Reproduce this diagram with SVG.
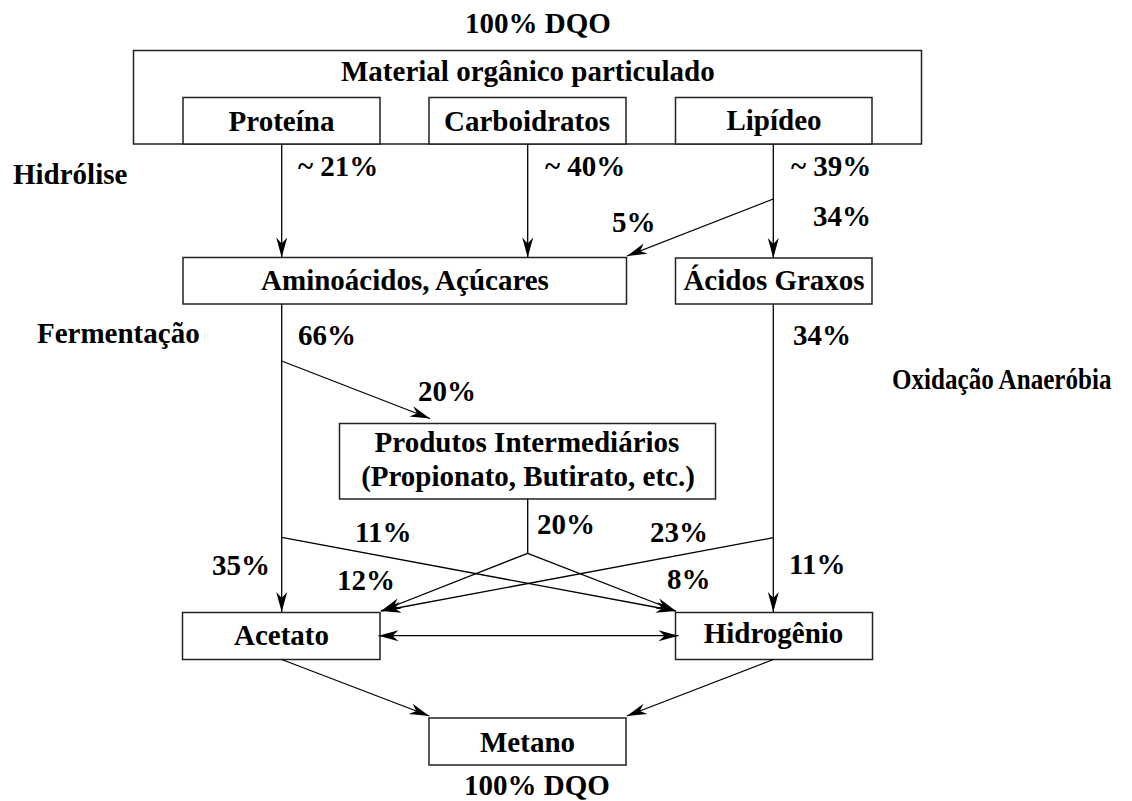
<svg xmlns="http://www.w3.org/2000/svg" width="1132" height="801" viewBox="0 0 1132 801">
<defs>
<style>
text{font-family:"Liberation Serif","Times New Roman",serif;font-weight:bold;font-size:29px;fill:#000}
.c{text-anchor:middle}
.box{fill:#fff;stroke:#222;stroke-width:1.5}
.ln{stroke:#000;stroke-width:1.3;fill:none}
</style>
<marker id="ah" markerUnits="userSpaceOnUse" markerWidth="24" markerHeight="14" viewBox="-22 -7 24 14" refX="0" refY="0" orient="auto-start-reverse">
<path d="M0,0 L-20,-5.5 L-14,0 L-20,5.5 Z" fill="#000"/>
</marker>
</defs>
<rect width="1132" height="801" fill="#fff"/>
<text x="465" y="33">100% DQO</text>
<g id="material">
<rect class="box" x="133.5" y="50.5" width="788" height="93.5"/>
<text x="341" y="81">Material orgânico particulado</text>
</g>
<g id="proteina">
<rect class="box" x="183" y="97.5" width="197" height="46.5"/>
<text class="c" x="281.5" y="131">Proteína</text>
</g>
<g id="carboidratos">
<rect class="box" x="429" y="97.5" width="197" height="46.5"/>
<text class="c" x="527" y="131">Carboidratos</text>
</g>
<g id="lipideo">
<rect class="box" x="675.5" y="97.5" width="196.5" height="46.5"/>
<text class="c" x="774" y="130">Lipídeo</text>
</g>
<g id="aminoacidos">
<rect class="box" x="183" y="257.5" width="443.5" height="46.5"/>
<text class="c" x="405" y="290">Aminoácidos, Açúcares</text>
</g>
<g id="acidos">
<rect class="box" x="675.5" y="258" width="196.5" height="46"/>
<text class="c" x="774" y="290">Ácidos Graxos</text>
</g>
<g id="produtos">
<rect class="box" x="339.5" y="423.5" width="376" height="75.5"/>
<text class="c" x="527" y="452">Produtos Intermediários</text>
<text class="c" x="528" y="486">(Propionato, Butirato, etc.)</text>
</g>
<g id="acetato">
<rect class="box" x="182.5" y="612.5" width="197.5" height="47"/>
<text class="c" x="281.5" y="645">Acetato</text>
</g>
<g id="hidrogenio">
<rect class="box" x="675.5" y="612.5" width="197" height="47"/>
<text class="c" x="773.5" y="643">Hidrogênio</text>
</g>
<g id="metano">
<rect class="box" x="429" y="718" width="197" height="47"/>
<text class="c" x="527.5" y="752">Metano</text>
</g>
<text class="c" x="537" y="795">100% DQO</text>
<g id="labels">
<text x="13" y="184">Hidrólise</text>
<text x="298" y="176">~ 21%</text>
<text x="545" y="176">~ 40%</text>
<text x="791" y="176">~ 39%</text>
<text x="612" y="232">5%</text>
<text x="813" y="226">34%</text>
<text x="37" y="343">Fermentação</text>
<text x="298" y="345">66%</text>
<text x="793" y="345">34%</text>
<text transform="translate(892,389) scale(0.865,1)" x="0" y="0">Oxidação Anaeróbia</text>
<text x="418" y="401">20%</text>
<text x="355" y="542">11%</text>
<text x="537" y="534">20%</text>
<text x="650" y="542">23%</text>
<text x="212" y="575">35%</text>
<text x="337" y="590">12%</text>
<text x="667" y="589">8%</text>
<text x="789" y="574">11%</text>
</g>
<g id="connectors">
<line class="ln" x1="281.7" y1="144" x2="281.7" y2="257.5" marker-end="url(#ah)"/>
<line class="ln" x1="527.7" y1="144" x2="527.7" y2="257.5" marker-end="url(#ah)"/>
<line class="ln" x1="773.3" y1="144" x2="773.3" y2="258" marker-end="url(#ah)"/>
<line class="ln" x1="773.3" y1="199" x2="627" y2="256" marker-end="url(#ah)"/>
<line class="ln" x1="281.7" y1="304" x2="281.7" y2="612" marker-end="url(#ah)"/>
<line class="ln" x1="281.7" y1="361" x2="430" y2="418.5" marker-end="url(#ah)"/>
<line class="ln" x1="773.3" y1="304" x2="773.3" y2="612" marker-end="url(#ah)"/>
<line class="ln" x1="527.7" y1="499" x2="527.7" y2="553.3"/>
<line class="ln" x1="527.7" y1="553.3" x2="381" y2="611" marker-end="url(#ah)"/>
<line class="ln" x1="527.7" y1="553.3" x2="676" y2="611" marker-end="url(#ah)"/>
<line class="ln" x1="281.7" y1="537.3" x2="676" y2="611" marker-end="url(#ah)"/>
<line class="ln" x1="773.3" y1="537.7" x2="381" y2="611" marker-end="url(#ah)"/>
<line class="ln" x1="378.5" y1="635.7" x2="678.5" y2="635.7" marker-start="url(#ah)" marker-end="url(#ah)"/>
<line class="ln" x1="281.7" y1="659.5" x2="429.4" y2="716" marker-end="url(#ah)"/>
<line class="ln" x1="773.3" y1="659.5" x2="626.8" y2="716" marker-end="url(#ah)"/>
</g>
</svg>
